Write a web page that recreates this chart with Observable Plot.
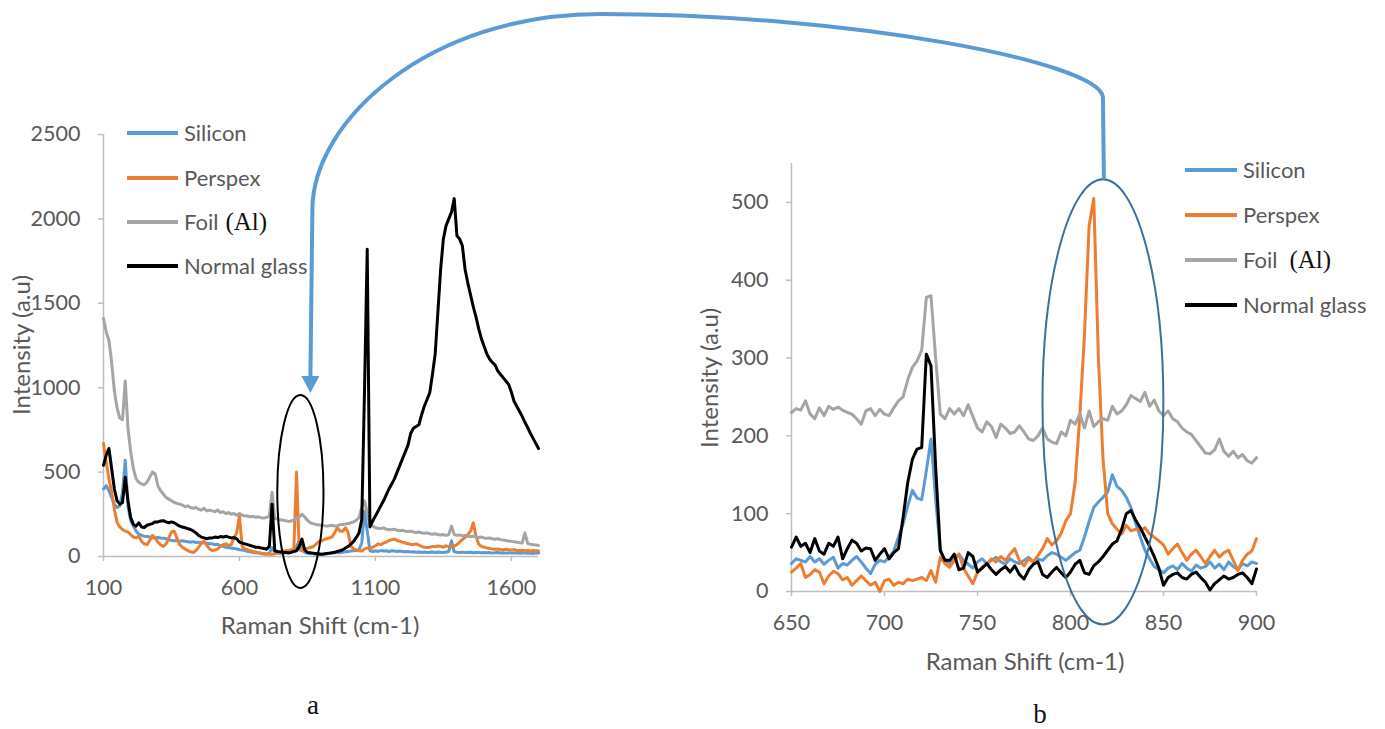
<!DOCTYPE html>
<html>
<head>
<meta charset="utf-8">
<script src="https://cdn.jsdelivr.net/npm/d3@7"></script>
<script src="https://cdn.jsdelivr.net/npm/@observablehq/plot@0.6"></script>
<style>
  body { margin: 0; background: #fff; }
  #fig { position: relative; width: 1385px; height: 729px; overflow: hidden; background: #fff; }
  #fig svg { position: absolute; }
</style>
</head>
<body>
<div id="fig"></div>
<script>
// ---- Series names and colours ----
const seriesNames = ["Silicon", "Perspex", "Foil", "Normal glass"];
const seriesColors = ["#5b9bd5", "#ed7d31", "#a5a5a5", "#000000"];

// ---- Panel a: full spectrum, Raman shift 100–1700 cm-1 in steps of 10 ----
const shiftA = d3.range(100, 1700.1, 10);
const xTicksA = [100, 600, 1100, 1600];
const yTicksA = [0, 500, 1000, 1500, 2000, 2500];

const siliconA = [
  400,420,390,350,310,290,300,380,570,300,
  211,180,150,132,125,120,118,115,113,110,
  113,110,108,105,100,95,93,95,90,93,
  90,88,85,88,83,85,80,82,78,75,
  75,70,72,65,60,55,53,50,48,45,
  40,38,35,30,28,24,22,20,18,15,
  14,20,53,25,20,18,22,24,20,25,
  30,60,93,40,24,20,18,16,14,14,
  14,15,16,18,20,22,24,22,25,28,
  30,32,34,36,40,80,270,150,34,30,
  34,30,35,32,34,30,34,33,30,32,
  30,28,30,26,28,25,27,24,26,24,
  25,27,24,26,25,24,26,30,93,28,
  25,24,26,23,24,25,22,24,23,22,
  24,22,23,21,22,24,21,22,20,22,
  21,20,22,19,20,21,19,20,18,20,
  20
];
const perspexA = [
  670,560,460,380,280,200,175,160,150,145,
  130,115,110,120,90,75,70,95,125,110,
  85,70,60,75,110,145,150,110,70,55,
  45,35,28,24,35,55,80,90,65,45,
  35,38,45,60,70,75,65,70,110,140,
  240,60,45,40,35,30,26,24,20,18,
  16,14,14,16,20,25,30,35,34,40,
  40,500,40,34,45,48,53,58,70,85,
  90,100,105,110,115,140,170,150,150,170,
  140,60,45,38,34,32,45,50,45,55,
  63,75,70,80,85,95,100,103,95,90,
  85,80,75,73,70,75,68,60,55,53,
  55,60,58,62,60,55,63,60,58,62,
  70,85,100,113,130,150,200,120,73,60,
  55,50,48,45,43,45,42,40,43,40,
  38,40,36,35,37,34,36,33,35,34,
  34
];
const foilA = [
  1410,1330,1280,1150,980,880,820,810,1040,760,
  620,520,460,440,430,425,440,470,500,490,
  420,390,370,350,340,330,320,315,310,305,
  295,300,290,285,290,280,275,285,270,275,
  270,265,275,260,265,255,260,250,255,245,
  255,245,240,240,235,238,232,235,230,228,
  232,240,380,225,222,218,215,212,208,210,
  215,225,235,250,235,215,200,195,190,188,
  185,183,180,182,185,180,183,188,190,192,
  195,200,205,215,230,290,330,260,190,180,
  170,168,165,170,162,160,158,162,155,152,
  155,150,148,150,145,142,145,140,138,140,
  135,132,135,130,128,130,125,130,180,130,
  125,128,122,125,120,118,120,115,112,115,
  110,108,110,105,102,105,100,98,95,92,
  90,88,85,82,80,140,78,72,70,68,
  65
];
const glassA = [
  540,600,640,520,400,330,310,320,470,330,
  230,190,180,200,175,172,185,190,195,205,
  205,210,212,205,200,205,200,190,180,175,
  170,165,160,152,140,125,115,110,105,110,
  110,115,112,118,115,120,115,110,112,105,
  85,80,75,70,65,60,55,55,50,48,
  43,60,310,34,30,28,25,24,22,24,
  30,34,60,103,40,24,22,20,18,16,
  14,15,18,20,22,25,30,34,40,50,
  60,73,90,113,140,220,980,1820,175,210,
  240,270,300,330,365,400,430,460,500,540,
  580,620,660,730,760,770,780,840,890,930,
  970,1080,1200,1450,1700,1880,1960,2000,2040,2120,
  1900,1880,1840,1700,1620,1550,1480,1420,1350,1290,
  1245,1200,1170,1150,1135,1100,1080,1060,1040,1020,
  975,920,890,860,830,795,765,730,700,670,
  640
];

// ---- Panel b: detail, Raman shift 650–900 cm-1 in steps of 2.5 ----
const shiftB = d3.range(650, 900.1, 2.5);
const xTicksB = [650, 700, 750, 800, 850, 900];
const yTicksB = [0, 100, 200, 300, 400, 500];

const siliconB = [
  36,42,40,38,45,38,42,35,40,44,
  30,36,34,40,45,38,30,23,35,40,
  38,44,52,70,87,110,130,120,118,155,
  196,118,53,40,36,42,48,40,35,30,
  38,42,36,40,44,38,35,42,38,36,
  40,44,38,42,40,46,50,48,44,40,
  45,50,53,70,90,108,115,121,128,150,
  135,130,121,108,88,70,53,42,32,28,
  24,30,33,28,36,30,26,34,30,32,
  38,30,35,28,38,32,28,36,33,38,
  36
];
const perspexB = [
  25,30,36,18,22,28,25,10,20,26,
  23,15,18,8,14,20,14,8,12,0,
  14,16,8,12,10,16,14,16,18,14,
  27,12,44,36,31,40,48,30,20,10,
  25,31,35,42,38,45,40,48,55,40,
  33,42,38,46,55,68,60,65,75,91,
  100,140,225,330,470,505,300,170,100,87,
  80,74,85,78,80,78,82,74,70,65,
  60,48,55,61,50,40,48,53,45,36,
  45,53,44,50,53,40,27,40,48,52,
  68
];
const foilB = [
  230,235,233,245,228,222,236,226,238,234,
  237,233,230,228,222,215,232,235,226,234,
  228,226,236,245,250,272,288,296,310,378,
  380,300,228,222,235,228,235,226,240,225,
  210,205,218,212,198,215,210,203,205,213,
  205,196,194,200,210,196,192,190,205,200,
  220,215,228,210,232,212,218,222,220,238,
  228,232,240,252,248,244,256,238,246,232,
  226,232,222,218,210,205,202,194,186,178,
  177,182,196,180,174,180,172,176,168,165,
  172
];
const glassB = [
  57,70,58,62,50,68,52,48,62,58,
  70,42,55,66,62,52,56,55,40,48,
  55,42,50,55,95,140,170,183,185,305,
  290,160,53,40,40,48,28,30,50,45,
  25,30,36,28,22,28,32,25,33,22,
  16,28,35,38,22,18,25,31,24,18,
  25,35,40,24,22,33,38,45,53,61,
  65,80,100,104,92,82,70,58,45,30,
  8,18,22,24,18,16,22,25,18,12,
  2,10,15,20,16,18,22,24,18,10,
  29
];

// Highlighted regions: [centre shift, centre intensity, half-width (shift), half-height (intensity)]
const highlightA = [826, 382, 85, 572];
const highlightB = [817.7, 243, 32.5, 286];

const FONT = "Lato, 'Open Sans', 'DejaVu Sans', sans-serif";
const SERIF = "'Liberation Serif', 'DejaVu Serif', serif";
const AXIS = "#bfbfbf";
const TEXT = "#595959";

function spectrumPlot({shift, series, xDomain, yDomain, xTicks, yTicks, width, height, margin}) {
  const marks = [
    Plot.ruleY([yDomain[0]], {stroke: AXIS, strokeWidth: 1.5}),
    Plot.ruleX([xDomain[0]], {stroke: AXIS, strokeWidth: 1.5})
  ];
  series.forEach((vals, i) => {
    const rows = vals.map((v, j) => ({shift: shift[j], intensity: v}));
    marks.push(Plot.line(rows, {
      x: "shift", y: "intensity",
      stroke: seriesColors[i], strokeWidth: 3,
      strokeLinejoin: "round", strokeLinecap: "round"
    }));
  });
  const svg = Plot.plot({
    width, height,
    marginTop: margin[0], marginRight: margin[1], marginBottom: margin[2], marginLeft: margin[3],
    style: {fontFamily: FONT, fontSize: "21.5px", color: TEXT, background: "transparent", overflow: "visible"},
    x: {domain: xDomain, ticks: xTicks, tickFormat: d => String(d), tickSize: 5, tickPadding: 18, label: null},
    y: {domain: yDomain, ticks: yTicks, tickFormat: d => String(d), tickSize: 5, tickPadding: 18, label: null},
    marks
  });
  d3.select(svg).selectAll('g[aria-label^="x-axis"], g[aria-label^="y-axis"]')
    .selectAll("line, path").attr("stroke", AXIS).attr("stroke-width", 1.5);
  return svg;
}

const fig = d3.select("#fig");

const plotA = spectrumPlot({
  shift: shiftA, series: [siliconA, perspexA, foilA, glassA],
  xDomain: [100, 1700], yDomain: [0, 2500], xTicks: xTicksA, yTicks: yTicksA,
  width: 560, height: 600, margin: [134, 22, 44, 103]
});
plotA.style.left = "0px"; plotA.style.top = "0px";
fig.node().appendChild(plotA);

const offB = 640;
const plotB = spectrumPlot({
  shift: shiftB, series: [siliconB, perspexB, foilB, glassB],
  xDomain: [650, 900], yDomain: [0, 550], xTicks: xTicksB, yTicks: yTicksB,
  width: 745, height: 640, margin: [163, 129, 49, 151]
});
plotB.style.left = offB + "px"; plotB.style.top = "0px";
fig.node().appendChild(plotB);

// ---- Annotation layer: legends, titles, highlight ellipses, connecting arrow ----
const ov = fig.append("svg").attr("width", 1385).attr("height", 729)
  .style("left", "0px").style("top", "0px").style("overflow", "visible");

function legend(x1, x2, tx, ys, alGap) {
  seriesNames.forEach((name, i) => {
    ov.append("line").attr("x1", x1).attr("x2", x2).attr("y1", ys[i]).attr("y2", ys[i])
      .attr("stroke", seriesColors[i]).attr("stroke-width", 4);
    const t = ov.append("text").attr("x", tx).attr("y", ys[i]).attr("dy", "0.35em")
      .attr("font-family", FONT).attr("font-size", 22).attr("fill", TEXT).text(name);
    if (name === "Foil") {
      t.append("tspan").attr("dx", alGap).attr("font-family", SERIF).attr("font-size", 25)
        .attr("fill", "#111").text("(Al)");
    }
  });
}
legend(127, 178, 184, [133, 178, 222, 266], 7);
legend(1185, 1237, 1243, [170, 215, 260, 305], 12);

function title(x, y, text, rotate) {
  const t = ov.append("text").attr("text-anchor", "middle").attr("dy", "0.35em")
    .attr("font-family", FONT).attr("font-size", 24).attr("fill", TEXT).text(text);
  if (rotate) t.attr("transform", `translate(${x},${y}) rotate(-90)`);
  else t.attr("x", x).attr("y", y);
}
title(22, 345, "Intensity (a.u)", true);
title(710, 378, "Intensity (a.u)", true);
title(320, 626, "Raman Shift (cm-1)", false);
title(1025, 662, "Raman Shift (cm-1)", false);

ov.append("text").attr("x", 313).attr("y", 714).attr("text-anchor", "middle")
  .attr("font-family", SERIF).attr("font-size", 27).attr("fill", "#111").text("a");
ov.append("text").attr("x", 1040).attr("y", 723).attr("text-anchor", "middle")
  .attr("font-family", SERIF).attr("font-size", 27).attr("fill", "#111").text("b");

// ellipses placed through each panel's scales
function ellipse(plot, off, [cx, cy, hx, hy], color) {
  const sx = plot.scale("x"), sy = plot.scale("y");
  const px = off + sx.apply(cx), py = sy.apply(cy);
  const rx = Math.abs(sx.apply(cx + hx) - sx.apply(cx));
  const ry = Math.abs(sy.apply(cy + hy) - sy.apply(cy));
  ov.append("ellipse").attr("cx", px).attr("cy", py).attr("rx", rx).attr("ry", ry)
    .attr("fill", "none").attr("stroke", color).attr("stroke-width", 2);
  return {cx: px, top: py - ry};
}
const eA = ellipse(plotA, 0, highlightA, "#000");
const eB = ellipse(plotB, offB, highlightB, "#3d6f9e");

// connecting arrow from the panel b ellipse to the panel a ellipse
const ARROW = "#5b9bd5";
const tipX = eA.cx + 10, tipY = eA.top - 2;
const p = d3.path();
p.moveTo(eB.cx + 1, eB.top);
p.lineTo(eB.cx, 97);
p.bezierCurveTo(eB.cx - 4, 62, 850, 14, 600, 14);
p.bezierCurveTo(430, 14, tipX + 2, 120, tipX + 2, 210);
p.lineTo(tipX, tipY - 14);
ov.append("path").attr("d", p.toString()).attr("fill", "none")
  .attr("stroke", ARROW).attr("stroke-width", 4).attr("stroke-linejoin", "round");
ov.append("path")
  .attr("d", `M${tipX - 9},${tipY - 17} L${tipX + 9},${tipY - 17} L${tipX},${tipY} Z`)
  .attr("fill", ARROW);
</script>
</body>
</html>
